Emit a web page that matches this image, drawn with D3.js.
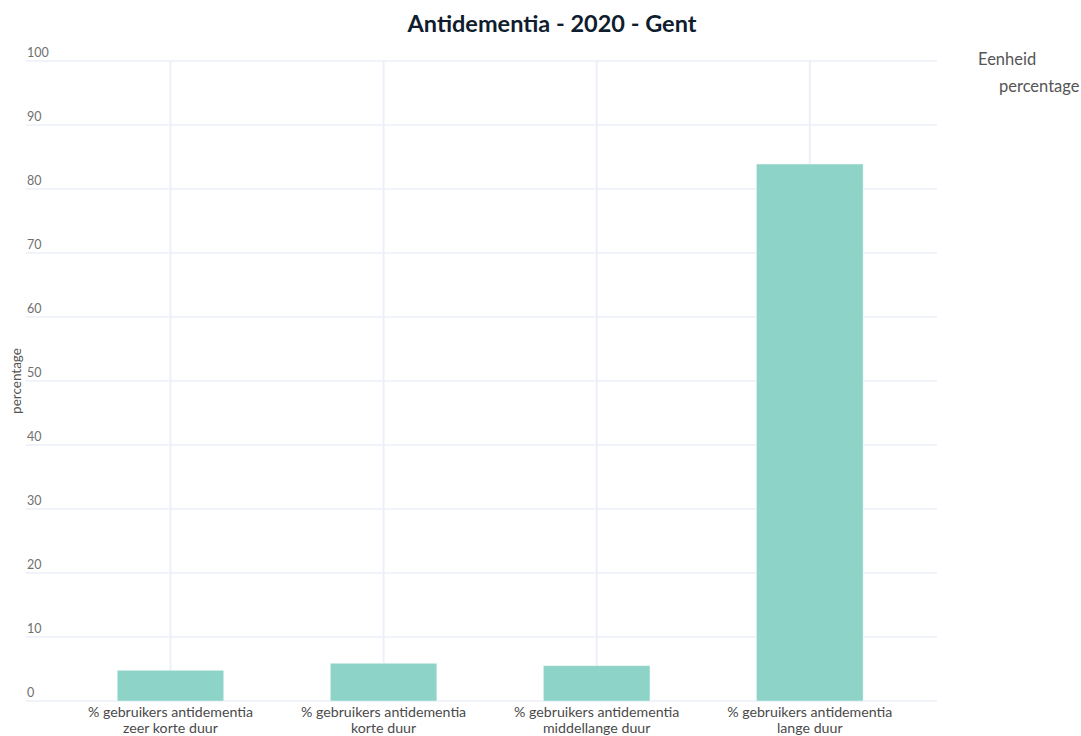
<!DOCTYPE html>
<html>
<head>
<meta charset="utf-8">
<script src="https://cdn.jsdelivr.net/npm/d3@7"></script>
<style>
	body { margin: 0; background: #fff; }
	text { font-family: Lato, 'Noto Sans', sans-serif; }
</style>
</head>
<body>
<svg id="chart"></svg>
<script>
const WIDTH = 1081;
const HEIGHT = 736;

// data
const categories = [
	['% gebruikers antidementia', 'zeer korte duur'],
	['% gebruikers antidementia', 'korte duur'],
	['% gebruikers antidementia', 'middellange duur'],
	['% gebruikers antidementia', 'lange duur']
];
const values = [4.8, 5.9, 5.5, 83.9];
const yTicks = [0, 10, 20, 30, 40, 50, 60, 70, 80, 90, 100];
const titleText = 'Antidementia - 2020 - Gent';
const legendTitle = 'Eenheid';
const legendItem = 'percentage';
const yTitle = 'percentage';

const plot = { left: 26, right: 937, top: 61, bottom: 701 };
const barColor = '#8dd3c7';
const gridColor = '#ebf0f8';

const svg = d3.select('#chart').attr('width', WIDTH).attr('height', HEIGHT);

// category index -> pixel (range is wider than the bars, like the original)
const x = d3.scaleLinear().domain([-0.678, 3.597]).range([plot.left, plot.right]);
const y = d3.scaleLinear().domain([0, 100]).range([plot.bottom, plot.top]);
const barWidth = x(0.5) - x(0);

// GRID
const grid = svg.append('g');
grid.selectAll('line.h')
	.data(yTicks)
	.enter()
	.append('line')
	.attr('class', 'h')
	.attr('x1', plot.left)
	.attr('x2', plot.right)
	.attr('y1', (d) => y(d))
	.attr('y2', (d) => y(d))
	.attr('stroke', gridColor)
	.attr('stroke-width', 1.5);

grid.selectAll('line.v')
	.data(categories)
	.enter()
	.append('line')
	.attr('class', 'v')
	.attr('x1', (d, i) => x(i))
	.attr('x2', (d, i) => x(i))
	.attr('y1', plot.top)
	.attr('y2', plot.bottom)
	.attr('stroke', gridColor)
	.attr('stroke-width', 2);

// y tick labels sit just above their gridline
svg.append('g')
	.selectAll('text')
	.data(yTicks)
	.enter()
	.append('text')
	.attr('x', 27)
	.attr('y', (d) => y(d) - 4)
	.attr('fill', '#6f6f6f')
	.attr('font-size', '12.5px')
	.text((d) => d);

// BARS
svg.append('g')
	.selectAll('rect')
	.data(values)
	.enter()
	.append('rect')
	.attr('x', (d, i) => x(i) - barWidth / 2)
	.attr('width', barWidth)
	.attr('y', (d) => y(d))
	.attr('height', (d) => y(0) - y(d))
	.attr('fill', barColor)
	.attr('stroke', '#e6f6f3')
	.attr('stroke-width', 0.5);

// x tick labels
const xLabels = svg.append('g')
	.selectAll('text')
	.data(categories)
	.enter()
	.append('text')
	.attr('text-anchor', 'middle')
	.attr('fill', '#4a4a4a')
	.attr('font-size', '14.2px');
xLabels.append('tspan')
	.attr('x', (d, i) => x(i))
	.attr('y', 717)
	.text((d) => d[0]);
xLabels.append('tspan')
	.attr('x', (d, i) => x(i))
	.attr('y', 733)
	.text((d) => d[1]);

// y axis title
svg.append('text')
	.attr('transform', `translate(21, ${(plot.top + plot.bottom) / 2}) rotate(-90)`)
	.attr('text-anchor', 'middle')
	.attr('fill', '#555')
	.attr('font-size', '13.5px')
	.text(yTitle);

// title
svg.append('text')
	.attr('x', 552)
	.attr('y', 32)
	.attr('text-anchor', 'middle')
	.attr('fill', '#0f1d2e')
	.attr('font-size', '23.5px')
	.attr('font-weight', 'bold')
	.text(titleText);

// legend
svg.append('text')
	.attr('x', 978)
	.attr('y', 65)
	.attr('fill', '#555')
	.attr('font-size', '16.5px')
	.text(legendTitle);
svg.append('text')
	.attr('x', 999)
	.attr('y', 92)
	.attr('fill', '#555')
	.attr('font-size', '16.5px')
	.text(legendItem);
</script>
</body>
</html>
